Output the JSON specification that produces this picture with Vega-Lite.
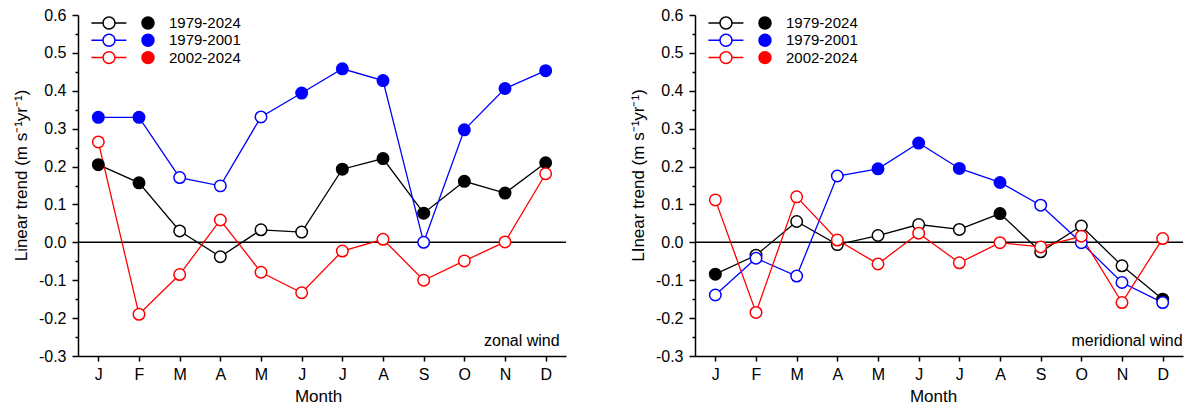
{
  "$schema": "https://vega.github.io/schema/vega-lite/v6.json",
  "padding": {"left": 12, "top": 7, "right": 4, "bottom": 4},
  "spacing": 62,
  "config": {
    "view": {"stroke": null},
    "font": "Liberation Sans",
    "axis": {
      "domainColor": "black", "tickColor": "black", "labelColor": "black", "titleColor": "black",
      "labelFont": "Liberation Sans", "titleFont": "Liberation Sans",
      "labelFontSize": 16, "titleFontSize": 17, "titleFontWeight": "normal",
      "domainWidth": 1.5, "tickWidth": 1.5, "grid": false
    },
    "legend": {"labelFont": "Liberation Sans", "labelFontSize": 15, "labelColor": "black"}
  },
  "datasets": {
    "d": [
      {"p": "zonal", "m": "Jan", "s": "1979-2024", "v": 0.205, "sig": true},
      {"p": "zonal", "m": "Feb", "s": "1979-2024", "v": 0.157, "sig": true},
      {"p": "zonal", "m": "Mar", "s": "1979-2024", "v": 0.030, "sig": false},
      {"p": "zonal", "m": "Apr", "s": "1979-2024", "v": -0.038, "sig": false},
      {"p": "zonal", "m": "May", "s": "1979-2024", "v": 0.033, "sig": false},
      {"p": "zonal", "m": "Jun", "s": "1979-2024", "v": 0.027, "sig": false},
      {"p": "zonal", "m": "Jul", "s": "1979-2024", "v": 0.193, "sig": true},
      {"p": "zonal", "m": "Aug", "s": "1979-2024", "v": 0.221, "sig": true},
      {"p": "zonal", "m": "Sep", "s": "1979-2024", "v": 0.077, "sig": true},
      {"p": "zonal", "m": "Oct", "s": "1979-2024", "v": 0.161, "sig": true},
      {"p": "zonal", "m": "Nov", "s": "1979-2024", "v": 0.130, "sig": true},
      {"p": "zonal", "m": "Dec", "s": "1979-2024", "v": 0.210, "sig": true},
      {"p": "zonal", "m": "Jan", "s": "1979-2001", "v": 0.330, "sig": true},
      {"p": "zonal", "m": "Feb", "s": "1979-2001", "v": 0.330, "sig": true},
      {"p": "zonal", "m": "Mar", "s": "1979-2001", "v": 0.171, "sig": false},
      {"p": "zonal", "m": "Apr", "s": "1979-2001", "v": 0.149, "sig": false},
      {"p": "zonal", "m": "May", "s": "1979-2001", "v": 0.331, "sig": false},
      {"p": "zonal", "m": "Jun", "s": "1979-2001", "v": 0.394, "sig": true},
      {"p": "zonal", "m": "Jul", "s": "1979-2001", "v": 0.458, "sig": true},
      {"p": "zonal", "m": "Aug", "s": "1979-2001", "v": 0.427, "sig": true},
      {"p": "zonal", "m": "Sep", "s": "1979-2001", "v": 0.000, "sig": false},
      {"p": "zonal", "m": "Oct", "s": "1979-2001", "v": 0.297, "sig": true},
      {"p": "zonal", "m": "Nov", "s": "1979-2001", "v": 0.406, "sig": true},
      {"p": "zonal", "m": "Dec", "s": "1979-2001", "v": 0.453, "sig": true},
      {"p": "zonal", "m": "Jan", "s": "2002-2024", "v": 0.265, "sig": false},
      {"p": "zonal", "m": "Feb", "s": "2002-2024", "v": -0.190, "sig": false},
      {"p": "zonal", "m": "Mar", "s": "2002-2024", "v": -0.085, "sig": false},
      {"p": "zonal", "m": "Apr", "s": "2002-2024", "v": 0.059, "sig": false},
      {"p": "zonal", "m": "May", "s": "2002-2024", "v": -0.079, "sig": false},
      {"p": "zonal", "m": "Jun", "s": "2002-2024", "v": -0.133, "sig": false},
      {"p": "zonal", "m": "Jul", "s": "2002-2024", "v": -0.023, "sig": false},
      {"p": "zonal", "m": "Aug", "s": "2002-2024", "v": 0.008, "sig": false},
      {"p": "zonal", "m": "Sep", "s": "2002-2024", "v": -0.100, "sig": false},
      {"p": "zonal", "m": "Oct", "s": "2002-2024", "v": -0.049, "sig": false},
      {"p": "zonal", "m": "Nov", "s": "2002-2024", "v": 0.001, "sig": false},
      {"p": "zonal", "m": "Dec", "s": "2002-2024", "v": 0.181, "sig": false},
      {"p": "meridional", "m": "Jan", "s": "1979-2024", "v": -0.084, "sig": true},
      {"p": "meridional", "m": "Feb", "s": "1979-2024", "v": -0.034, "sig": false},
      {"p": "meridional", "m": "Mar", "s": "1979-2024", "v": 0.055, "sig": false},
      {"p": "meridional", "m": "Apr", "s": "1979-2024", "v": -0.006, "sig": false},
      {"p": "meridional", "m": "May", "s": "1979-2024", "v": 0.018, "sig": false},
      {"p": "meridional", "m": "Jun", "s": "1979-2024", "v": 0.047, "sig": false},
      {"p": "meridional", "m": "Jul", "s": "1979-2024", "v": 0.034, "sig": false},
      {"p": "meridional", "m": "Aug", "s": "1979-2024", "v": 0.076, "sig": true},
      {"p": "meridional", "m": "Sep", "s": "1979-2024", "v": -0.025, "sig": false},
      {"p": "meridional", "m": "Oct", "s": "1979-2024", "v": 0.043, "sig": false},
      {"p": "meridional", "m": "Nov", "s": "1979-2024", "v": -0.062, "sig": false},
      {"p": "meridional", "m": "Dec", "s": "1979-2024", "v": -0.150, "sig": true},
      {"p": "meridional", "m": "Jan", "s": "1979-2001", "v": -0.139, "sig": false},
      {"p": "meridional", "m": "Feb", "s": "1979-2001", "v": -0.042, "sig": false},
      {"p": "meridional", "m": "Mar", "s": "1979-2001", "v": -0.089, "sig": false},
      {"p": "meridional", "m": "Apr", "s": "1979-2001", "v": 0.175, "sig": false},
      {"p": "meridional", "m": "May", "s": "1979-2001", "v": 0.194, "sig": true},
      {"p": "meridional", "m": "Jun", "s": "1979-2001", "v": 0.262, "sig": true},
      {"p": "meridional", "m": "Jul", "s": "1979-2001", "v": 0.195, "sig": true},
      {"p": "meridional", "m": "Aug", "s": "1979-2001", "v": 0.158, "sig": true},
      {"p": "meridional", "m": "Sep", "s": "1979-2001", "v": 0.098, "sig": false},
      {"p": "meridional", "m": "Oct", "s": "1979-2001", "v": -0.001, "sig": false},
      {"p": "meridional", "m": "Nov", "s": "1979-2001", "v": -0.106, "sig": false},
      {"p": "meridional", "m": "Dec", "s": "1979-2001", "v": -0.159, "sig": false},
      {"p": "meridional", "m": "Jan", "s": "2002-2024", "v": 0.112, "sig": false},
      {"p": "meridional", "m": "Feb", "s": "2002-2024", "v": -0.185, "sig": false},
      {"p": "meridional", "m": "Mar", "s": "2002-2024", "v": 0.120, "sig": false},
      {"p": "meridional", "m": "Apr", "s": "2002-2024", "v": 0.006, "sig": false},
      {"p": "meridional", "m": "May", "s": "2002-2024", "v": -0.057, "sig": false},
      {"p": "meridional", "m": "Jun", "s": "2002-2024", "v": 0.024, "sig": false},
      {"p": "meridional", "m": "Jul", "s": "2002-2024", "v": -0.054, "sig": false},
      {"p": "meridional", "m": "Aug", "s": "2002-2024", "v": -0.001, "sig": false},
      {"p": "meridional", "m": "Sep", "s": "2002-2024", "v": -0.012, "sig": false},
      {"p": "meridional", "m": "Oct", "s": "2002-2024", "v": 0.016, "sig": false},
      {"p": "meridional", "m": "Nov", "s": "2002-2024", "v": -0.159, "sig": false},
      {"p": "meridional", "m": "Dec", "s": "2002-2024", "v": 0.010, "sig": false}
    ]
  },
  "resolve": {"legend": {"fill": "independent"}},
  "hconcat": [
    {
      "width": 488, "height": 341,
      "data": {"name": "d"},
      "transform": [{"filter": "datum.p == 'zonal'"}, {"calculate": "datum.sig ? datum.s : 'ns'", "as": "fk"}],
      "resolve": {"axis": {"y": "independent"}},
      "layer": [
        {
          "data": {"values": [{}]},
          "mark": {"type": "rule", "color": "black", "strokeWidth": 1.5},
          "encoding": {
            "y": {"datum": 0, "type": "quantitative", "scale": {"domain": [-0.3, 0.6], "nice": false, "zero": false},
              "axis": {"orient": "left", "values": [-0.25, -0.15, -0.05, 0.05, 0.15, 0.25, 0.35, 0.45, 0.55], "labels": false, "domain": false, "tickSize": 3, "title": null}}
          }
        },
        {
          "mark": {"type": "line", "strokeWidth": 1.3},
          "encoding": {
            "x": {"field": "m", "type": "ordinal", "scale": {"type": "point", "padding": 0.5, "domain": ["Jan","Feb","Mar","Apr","May","Jun","Jul","Aug","Sep","Oct","Nov","Dec"]},
              "axis": {"title": "Month", "titleX": 240, "labelAngle": 0, "tickSize": 5, "labelPadding": 5, "titlePadding": 6, "labelExpr": "substring(datum.label, 0, 1)"}},
            "y": {"field": "v", "type": "quantitative", "scale": {"domain": [-0.3, 0.6], "nice": false, "zero": false},
              "axis": {"orient": "left", "title": "Linear trend (m s\u207b\u00b9yr\u207b\u00b9)", "titleY": 160, "values": [-0.3, -0.2, -0.1, 0, 0.1, 0.2, 0.3, 0.4, 0.5, 0.6], "tickSize": 6, "labelPadding": 6, "titlePadding": 8, "labelExpr": "replace(format(datum.value, '.1f'), '\u2212', '-')"}},
            "stroke": {"field": "s", "type": "nominal", "scale": {"domain": ["1979-2024", "1979-2001", "2002-2024"], "range": ["#000000", "#0000ff", "#ff0000"]}, "legend": null},
            "detail": {"field": "s"}
          }
        },
        {
          "mark": {"type": "point", "shape": "circle", "size": 132, "strokeWidth": 1.5, "opacity": 1, "filled": false},
          "encoding": {
            "x": {"field": "m", "type": "ordinal", "scale": {"type": "point", "padding": 0.5, "domain": ["Jan","Feb","Mar","Apr","May","Jun","Jul","Aug","Sep","Oct","Nov","Dec"]}},
            "y": {"field": "v", "type": "quantitative", "axis": null},
            "stroke": {"field": "s", "type": "nominal", "legend": null},
            "fill": {"field": "fk", "type": "nominal", "scale": {"domain": ["1979-2024", "1979-2001", "2002-2024", "ns"], "range": ["#000000", "#0000ff", "#ff0000", "#ffffff"]},
              "legend": {"orient": "none", "legendX": 22, "legendY": -1, "title": null, "padding": 0, "values": ["1979-2024", "1979-2001", "2002-2024"],
                "symbolType": "M-1.956,-0.0833H-0.689V0.0833H-1.956Z M0.689,-0.0833H1.933V0.0833H0.689Z M0.744,0A0.744,0.744 0 1,1 -0.744,0A0.744,0.744 0 1,1 0.744,0Z M0.578,0A0.578,0.578 0 1,0 -0.578,0A0.578,0.578 0 1,0 0.578,0Z M5.078,0A0.744,0.744 0 1,1 3.589,0A0.744,0.744 0 1,1 5.078,0Z",
                "symbolSize": 324, "symbolStrokeWidth": 0, "symbolStrokeColor": "transparent", "symbolOpacity": 1, "labelOffset": 51, "rowPadding": 0.3}}
          }
        },
        {
          "data": {"values": [{"label": "zonal wind"}]},
          "mark": {"type": "text", "align": "right", "baseline": "alphabetic", "fontSize": 16, "font": "Liberation Sans", "color": "black", "dx": 14},
          "encoding": {
            "x": {"datum": "Dec", "type": "ordinal"},
            "y": {"datum": -0.273, "type": "quantitative", "axis": null},
            "text": {"field": "label"}
          }
        }
      ]
    },
    {
      "width": 488, "height": 341,
      "data": {"name": "d"},
      "transform": [{"filter": "datum.p == 'meridional'"}, {"calculate": "datum.sig ? datum.s : 'ns'", "as": "fk"}],
      "resolve": {"axis": {"y": "independent"}},
      "layer": [
        {
          "data": {"values": [{}]},
          "mark": {"type": "rule", "color": "black", "strokeWidth": 1.5},
          "encoding": {
            "y": {"datum": 0, "type": "quantitative", "scale": {"domain": [-0.3, 0.6], "nice": false, "zero": false},
              "axis": {"orient": "left", "values": [-0.25, -0.15, -0.05, 0.05, 0.15, 0.25, 0.35, 0.45, 0.55], "labels": false, "domain": false, "tickSize": 3, "title": null}}
          }
        },
        {
          "mark": {"type": "line", "strokeWidth": 1.3},
          "encoding": {
            "x": {"field": "m", "type": "ordinal", "scale": {"type": "point", "padding": 0.5, "domain": ["Jan","Feb","Mar","Apr","May","Jun","Jul","Aug","Sep","Oct","Nov","Dec"]},
              "axis": {"title": "Month", "titleX": 238, "labelAngle": 0, "tickSize": 5, "labelPadding": 5, "titlePadding": 6, "labelExpr": "substring(datum.label, 0, 1)"}},
            "y": {"field": "v", "type": "quantitative", "scale": {"domain": [-0.3, 0.6], "nice": false, "zero": false},
              "axis": {"orient": "left", "title": "LInear trend (m s\u207b\u00b9yr\u207b\u00b9)", "titleY": 160, "values": [-0.3, -0.2, -0.1, 0, 0.1, 0.2, 0.3, 0.4, 0.5, 0.6], "tickSize": 6, "labelPadding": 6, "titlePadding": 8, "labelExpr": "replace(format(datum.value, '.1f'), '\u2212', '-')"}},
            "stroke": {"field": "s", "type": "nominal", "scale": {"domain": ["1979-2024", "1979-2001", "2002-2024"], "range": ["#000000", "#0000ff", "#ff0000"]}, "legend": null},
            "detail": {"field": "s"}
          }
        },
        {
          "mark": {"type": "point", "shape": "circle", "size": 132, "strokeWidth": 1.5, "opacity": 1, "filled": false},
          "encoding": {
            "x": {"field": "m", "type": "ordinal", "scale": {"type": "point", "padding": 0.5, "domain": ["Jan","Feb","Mar","Apr","May","Jun","Jul","Aug","Sep","Oct","Nov","Dec"]}},
            "y": {"field": "v", "type": "quantitative", "axis": null},
            "stroke": {"field": "s", "type": "nominal", "legend": null},
            "fill": {"field": "fk", "type": "nominal", "scale": {"domain": ["1979-2024", "1979-2001", "2002-2024", "ns"], "range": ["#000000", "#0000ff", "#ff0000", "#ffffff"]},
              "legend": {"orient": "none", "legendX": 22, "legendY": -1, "title": null, "padding": 0, "values": ["1979-2024", "1979-2001", "2002-2024"],
                "symbolType": "M-1.956,-0.0833H-0.689V0.0833H-1.956Z M0.689,-0.0833H1.933V0.0833H0.689Z M0.744,0A0.744,0.744 0 1,1 -0.744,0A0.744,0.744 0 1,1 0.744,0Z M0.578,0A0.578,0.578 0 1,0 -0.578,0A0.578,0.578 0 1,0 0.578,0Z M5.078,0A0.744,0.744 0 1,1 3.589,0A0.744,0.744 0 1,1 5.078,0Z",
                "symbolSize": 324, "symbolStrokeWidth": 0, "symbolStrokeColor": "transparent", "symbolOpacity": 1, "labelOffset": 51, "rowPadding": 0.3}}
          }
        },
        {
          "data": {"values": [{"label": "meridional wind"}]},
          "mark": {"type": "text", "align": "right", "baseline": "alphabetic", "fontSize": 16, "font": "Liberation Sans", "color": "black", "dx": 20},
          "encoding": {
            "x": {"datum": "Dec", "type": "ordinal"},
            "y": {"datum": -0.273, "type": "quantitative", "axis": null},
            "text": {"field": "label"}
          }
        }
      ]
    }
  ]
}
